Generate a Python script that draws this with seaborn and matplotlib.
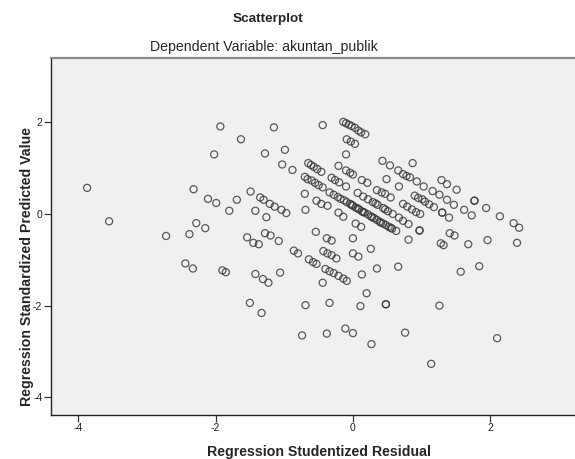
import matplotlib
matplotlib.use('Agg')
import matplotlib.pyplot as plt
import pandas as pd
import seaborn as sns

# studentized residual (x) / standardized predicted value (y)

# outer / left part of the cloud
resid_left = [-3.87, -3.55, -2.72, -2.44, -2.33, -2.32, -2.28, -2.15, -2.11, -1.99,
              -2.38, -2.02, -1.93, -1.90, -1.85, -1.80, -1.69, -1.63, -1.49, -1.42,
              -1.35, -1.30, -1.21, -1.14, -1.04, -0.97, -1.26, -1.28, -1.20, -1.08,
              -1.54, -1.45, -1.37, -1.42, -1.31, -1.23, -1.06, -1.50, -1.33, -1.28,
              -1.15, -0.99, -1.03, -0.88, -0.86, -0.80, -0.74]
pred_left = [0.57, -0.16, -0.48, -1.08, -1.19, 0.54, -0.20, -0.31, 0.33, 0.24,
             -0.44, 1.30, 1.91, -1.23, -1.27, 0.07, 0.31, 1.63, 0.49, 0.07,
             0.36, 0.31, 0.22, 0.16, 0.09, 0.02, -0.07, -0.42, -0.47, -0.59,
             -0.51, -0.63, -0.66, -1.31, -1.42, -1.50, -1.28, -1.94, -2.16, 1.32,
             1.89, 1.40, 1.08, 0.96, -0.80, -0.86, -2.65]

# upper middle
resid_mid = [-0.44, -0.14, -0.10, -0.06, -0.02, 0.03, 0.08, 0.12, 0.18, -0.09,
             -0.03, 0.03, -0.10, -0.65, -0.61, -0.57, -0.52, -0.46, -0.21, -0.10,
             -0.04, 0.00, -0.70, -0.66, -0.60, -0.55, -0.50, -0.44, -0.34, -0.28,
             -0.31, -0.26, -0.20, -0.10, 0.13, 0.21, -0.70, -0.53, -0.46, -0.37,
             -0.69, -0.21, -0.14]
pred_mid = [1.94, 2.01, 1.98, 1.95, 1.92, 1.88, 1.82, 1.78, 1.74, 1.63,
            1.58, 1.53, 1.30, 1.11, 1.07, 1.03, 0.98, 0.92, 1.05, 0.95,
            0.90, 0.86, 0.81, 0.76, 0.73, 0.68, 0.63, 0.58, 0.47, 0.42,
            0.79, 0.74, 0.69, 0.60, 0.74, 0.68, 0.44, 0.29, 0.22, 0.18,
            0.09, 0.03, -0.06]

# the two dense diagonal bands near zero
resid_band = [-0.22, -0.18, -0.13, -0.09, -0.04, 0.00, 0.04, 0.09, 0.13, 0.17,
              0.22, 0.26, 0.31, 0.35, 0.39, 0.44, 0.48, 0.52, 0.57, 0.63,
              -0.02, 0.07, 0.15, 0.28, 0.41, 0.55,
              0.07, 0.15, 0.22, 0.29, 0.36, 0.44, 0.51, 0.58, 0.67, 0.73,
              0.81, 0.33, 0.47]
pred_band = [0.37, 0.33, 0.30, 0.26, 0.22, 0.18, 0.14, 0.10, 0.06, 0.03,
             -0.01, -0.05, -0.09, -0.13, -0.17, -0.21, -0.24, -0.28, -0.32, -0.37,
             0.20, 0.12, 0.04, -0.07, -0.19, -0.30,
             0.46, 0.38, 0.32, 0.26, 0.20, 0.13, 0.06, 0.00, -0.08, -0.15,
             -0.22, 0.23, 0.10]

# lower middle
resid_low = [0.04, 0.12, -0.54, -0.38, -0.31, 0.00, 0.26, -0.43, -0.37, -0.31,
             -0.24, 0.00, 0.08, -0.64, -0.58, -0.53, -0.40, -0.34, -0.28, -0.21,
             -0.14, -0.09, 0.13, -0.44, 0.20, -0.34, -0.69, 0.11, 0.48, 0.48,
             -0.38, -0.11, 0.00, 0.27, 0.76, 1.14, 2.10, 1.26, 0.35, 0.66,
             1.84, 1.57]
pred_low = [-0.21, -0.28, -0.39, -0.53, -0.58, -0.53, -0.76, -0.81, -0.86, -0.90,
            -0.97, -0.86, -0.93, -0.99, -1.05, -1.09, -1.20, -1.25, -1.29, -1.35,
            -1.41, -1.46, -1.32, -1.50, -1.73, -1.94, -1.99, -2.01, -1.97, -1.97,
            -2.61, -2.50, -2.60, -2.84, -2.59, -3.27, -2.71, -2.00, -1.19, -1.15,
            -1.14, -1.26]

# right part
resid_right = [0.43, 0.54, 0.66, 0.73, 0.78, 0.83, 0.87, 0.49, 0.93, 1.03,
               1.16, 1.26, 1.37, 1.47, 1.29, 1.37, 1.51, 0.67, 0.35, 0.42,
               0.47, 0.55, 0.90, 0.95, 1.01, 1.05, 1.11, 1.18, 1.77, 1.77,
               1.62, 1.73, 1.94, 2.14, 2.34, 2.42, 0.73, 0.79, 0.86, 0.92,
               0.98, 1.30, 1.30, 1.40, 0.97, 0.97, 0.81, 1.41, 1.48, 1.28,
               1.32, 1.68, 1.96, 2.39]
pred_right = [1.16, 1.06, 0.95, 0.87, 0.83, 0.80, 1.11, 0.76, 0.71, 0.60,
              0.50, 0.42, 0.31, 0.20, 0.74, 0.65, 0.53, 0.60, 0.52, 0.47,
              0.44, 0.36, 0.40, 0.35, 0.32, 0.27, 0.21, 0.15, 0.29, 0.29,
              0.09, -0.03, 0.13, -0.05, -0.20, -0.30, 0.22, 0.16, 0.10, 0.04,
              0.00, 0.03, 0.03, -0.08, -0.36, -0.36, -0.56, -0.42, -0.47, -0.64,
              -0.68, -0.66, -0.57, -0.63]

x_ticks = [-4, -2, 0, 2]
y_ticks = [-4, -2, 0, 2]

df = pd.DataFrame({
    'resid': resid_left + resid_mid + resid_band + resid_low + resid_right,
    'pred': pred_left + pred_mid + pred_band + pred_low + pred_right,
})

sns.set_theme(style='white')
plt.rcParams['font.family'] = ['Liberation Sans', 'DejaVu Sans']

fig = plt.figure(figsize=(5.75, 4.59), dpi=100, facecolor='white')
ax = fig.add_axes([0.0882, 0.0959, 0.9118, 0.7771])
ax.set_facecolor('#f0f0f0')

sns.scatterplot(data=df, x='resid', y='pred', ax=ax, marker='o', s=26,
                facecolors='none', edgecolor='#333333', linewidth=0.9, alpha=0.8)

ax.set_xlim(-4.40, 3.234)
ax.set_ylim(-4.386, 3.397)
ax.set_xticks(x_ticks)
ax.set_yticks(y_ticks)
ax.set_xticklabels([str(t) for t in x_ticks])
ax.set_yticklabels([str(t) for t in y_ticks])
ax.tick_params(bottom=True, left=True, direction='out', length=5, width=0.9,
               color='#333333', labelsize=7.5, labelcolor='#222222', pad=1)
ax.set_xlabel('')
ax.set_ylabel('')

for side in ['left', 'bottom']:
    ax.spines[side].set_color('#222222')
    ax.spines[side].set_linewidth(1.0)
ax.spines['top'].set_color('#8a8a8a')
ax.spines['top'].set_linewidth(1.6)
ax.spines['right'].set_visible(False)

fig.text(268 / 575, 1 - 19 / 459, 'Scatterplot', ha='center', va='center',
         fontsize=9.7, fontweight='bold')
fig.text(264 / 575, 1 - 47 / 459, 'Dependent Variable: akuntan_publik',
         ha='center', va='center', fontsize=10.2)
fig.text(319 / 575, 1 - 451.7 / 459, 'Regression Studentized Residual',
         ha='center', va='center', fontsize=10.2, fontweight='bold')
fig.text(27 / 575, 1 - 266.7 / 459, 'Regression Standardized Predicted Value',
         ha='center', va='center', rotation=90, fontsize=10.2, fontweight='bold')

fig.savefig('out.png', dpi=100)
